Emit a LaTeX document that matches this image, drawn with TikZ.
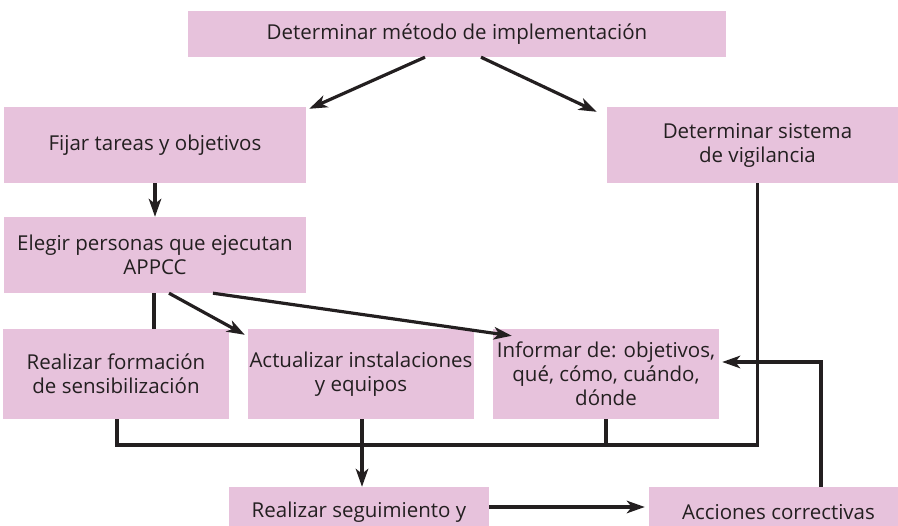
\documentclass[tikz,border=0pt]{standalone}
\usepackage{fontspec}
\setmainfont{Open Sans}
\usetikzlibrary{arrows.meta,calc}
\definecolor{boxpink}{HTML}{E7C2DC}
\definecolor{ink}{HTML}{231F20}
\tikzset{
  box/.style={fill=boxpink, draw=none, inner sep=0pt, align=center, text=ink,
    font=\fontsize{20.5}{24}\selectfont},
  conn/.style={draw=ink, line width=3.2pt},
  arr/.style={conn, -{Stealth[length=18pt,width=12.5pt,inset=5pt]}},
}
\begin{document}
\begin{tikzpicture}[x=1pt,y=-1pt]
\useasboundingbox (0,0) rectangle (898,526);
\node[box, minimum width=538pt, minimum height=46pt] (top) at (457,34) {Determinar método de implementación};
\node[box, minimum width=302pt, minimum height=76pt] (fijar) at (155,145) {Fijar tareas y objetivos};
\node[box, minimum width=301pt, minimum height=76pt] (detsis) at (757.5,145) {Determinar sistema\\de vigilancia};
\node[box, minimum width=302pt, minimum height=76pt] (elegir) at (155,255) {Elegir personas que ejecutan\\APPCC};
\node[box, minimum width=226pt, minimum height=90pt] (form) at (116,374) {Realizar formación\\de sensibilización};
\node[box, minimum width=226pt, minimum height=90pt] (act) at (361,374) {Actualizar instalaciones\\y equipos};
\node[box, minimum width=226pt, minimum height=90pt] (inf) at (606,374) {Informar de: objetivos,\\qué, cómo, cuándo,\\dónde};
\node[box, minimum width=260pt, minimum height=50pt] (seg) at (359,512) {Realizar seguimiento y};
\node[box, minimum width=259pt, minimum height=50pt] (acc) at (778.5,512) {Acciones correctivas};
% top arrows
\draw[arr] ([xshift=-32pt]top.south) -- ([shift={(3pt,-2pt)}]fijar.north east);
\draw[arr] ([xshift=24pt]top.south) -- ([shift={(-10pt,-5pt)}]detsis.north west);
\draw[arr] (fijar.south) -- (elegir.north);
% from elegir
\draw[conn] ([xshift=-1pt]elegir.south) -- ([xshift=-1pt]elegir.south |- form.north);
\draw[arr] ([xshift=14pt]elegir.south) -- ([shift={(-3pt,-6pt)}]act.north west);
\draw[arr] ([xshift=58pt]elegir.south) -- ([shift={(19pt,-7pt)}]inf.north west);
% collector
\coordinate (cl) at ([xshift=1pt]form.south |- 0,445);
\coordinate (cr) at (detsis.south |- 0,445);
\draw[conn] ([xshift=1pt]form.south) -- (cl) -- (cr) -- (detsis.south);
\draw[conn] (inf.south) -- (inf.south |- cr);
\draw[arr] ([xshift=1pt]act.south) -- ([xshift=1pt]act.south |- seg.north);
\draw[arr] ([yshift=5pt]seg.east) -- ([shift={(-4pt,5pt)}]acc.west);
\coordinate (fb) at ([xshift=42.5pt]acc.north);
\draw[arr] (fb) |- ([shift={(3pt,12pt)}]inf.east);
\end{tikzpicture}
\end{document}
